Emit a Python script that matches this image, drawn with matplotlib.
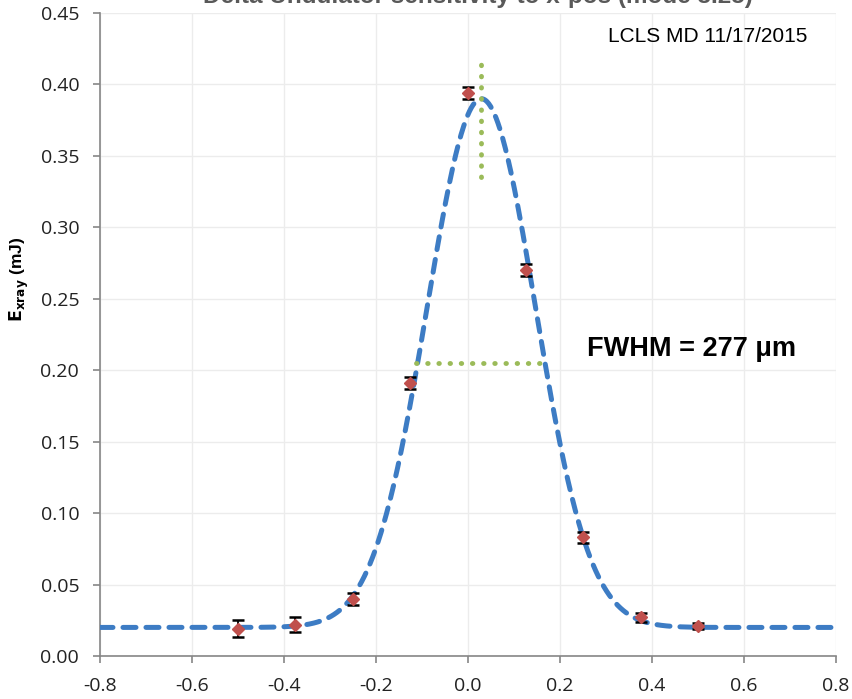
import numpy as np
import matplotlib
matplotlib.use("Agg")
import matplotlib.pyplot as plt

plt.rcParams['font.family'] = ['Liberation Sans', 'DejaVu Sans']

# Measured data
x_pos = [-0.5, -0.375, -0.25, -0.125, 0.0, 0.125, 0.25, 0.375, 0.5]
e_xray = [0.019, 0.022, 0.040, 0.191, 0.394, 0.270, 0.083, 0.027, 0.021]
e_err = [0.006, 0.005, 0.004, 0.004, 0.004, 0.004, 0.004, 0.003, 0.002]

# Gaussian fit parameters
fit_baseline = 0.020
fit_amplitude = 0.370
fit_center = 0.029
fit_fwhm = 0.277

# Marker lines
peak_line_y = [0.335, 0.416]
half_line_x = [-0.112, 0.167]

x_ticks = [-0.8, -0.6, -0.4, -0.2, 0.0, 0.2, 0.4, 0.6, 0.8]
y_ticks = [0.00, 0.05, 0.10, 0.15, 0.20, 0.25, 0.30, 0.35, 0.40, 0.45]

fig = plt.figure(figsize=(8.53, 6.99), dpi=100)
ax = fig.add_axes([0.1172, 0.0615, 0.8629, 0.9199])

sigma = fit_fwhm / (2 * np.sqrt(2 * np.log(2)))
xf = np.linspace(-0.8, 0.8, 800)
yf = fit_baseline + fit_amplitude * np.exp(-0.5 * ((xf - fit_center) / sigma) ** 2)
ax.plot(xf, yf, linestyle=(0, (2.6, 2.0)), dash_capstyle='round', color='#3d7cc4',
        lw=3.6, zorder=3)

ax.errorbar(x_pos, e_xray, yerr=e_err, fmt='D', color='#c0504d', ms=6,
            ecolor='black', elinewidth=1.3, capsize=4.5, capthick=1.8, zorder=4)

half = fit_baseline + fit_amplitude / 2
ax.plot(half_line_x, [half, half], linestyle=(0, (0.1, 2.2)), dash_capstyle='round',
        color='#9bbb59', lw=3.5, zorder=5)
ax.plot([fit_center, fit_center], peak_line_y, linestyle=(0, (0.1, 2.2)),
        dash_capstyle='round', color='#9bbb59', lw=3.5, zorder=5)

ax.set_xlim(-0.8, 0.8)
ax.set_ylim(0, 0.45)
ax.set_xticks(x_ticks)
ax.set_xticklabels([f"{v:.1f}" for v in x_ticks], fontfamily='Open Sans')
ax.set_yticks(y_ticks)
ax.set_yticklabels([f"{v:.2f}" for v in y_ticks], fontfamily='Open Sans')
ax.tick_params(labelsize=14, length=5, width=1.2, color='#868686', pad=10,
               labelcolor='#222222')
ax.grid(True, color='#ececec', lw=1)
ax.set_axisbelow(True)
for s in ['top', 'right']:
    ax.spines[s].set_visible(False)
for s in ['left', 'bottom']:
    ax.spines[s].set_color('#868686')
    ax.spines[s].set_linewidth(1.2)

ax.set_ylabel(r'$\mathbf{E_{xray}}$ (mJ)', fontsize=12.5, fontweight='bold')
ax.yaxis.set_label_coords(-0.094, 0.586)

ax.text(0.961, 0.978, 'LCLS MD 11/17/2015', transform=ax.transAxes, ha='right',
        va='top', fontsize=15)
ax.text(0.661, 0.4775, 'FWHM = 277 μm', transform=ax.transAxes, fontsize=19.5,
        fontweight='bold', va='center')

fig.text(0.56, 1 - 3 / 699, 'Delta Undulator sensitivity to x-pos (mode 3.25)',
         ha='center', va='baseline', fontsize=17.5, fontweight='bold', color='#595959')

fig.savefig('out.png', dpi=100)
